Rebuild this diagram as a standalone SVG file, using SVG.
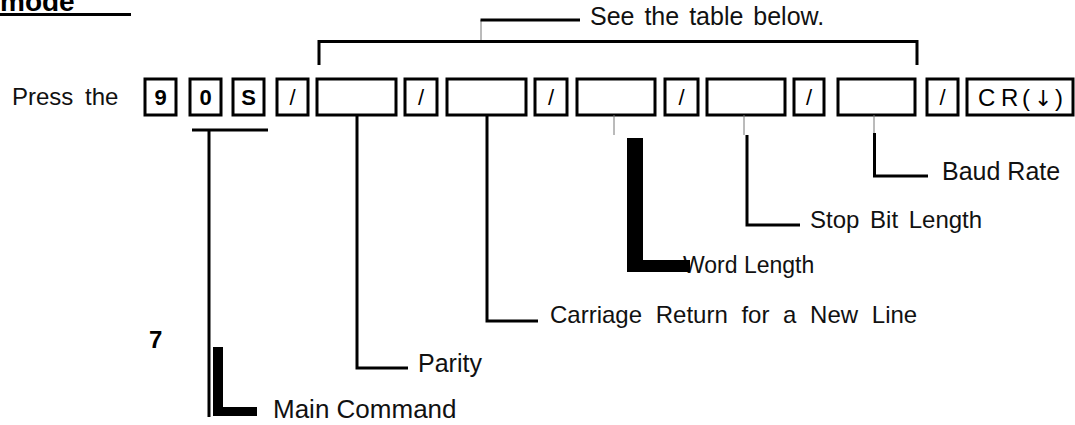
<svg xmlns="http://www.w3.org/2000/svg" width="1075" height="425" viewBox="0 0 1075 425">
<style>
.key{fill:#fff;stroke:#000;stroke-width:3}
.t{font-family:"Liberation Sans",Arial,sans-serif;font-size:24px;fill:#111}
.kb{font-family:"Liberation Sans",Arial,sans-serif;font-size:22px;font-weight:bold;fill:#000;text-anchor:middle}
.ks{font-family:"Liberation Sans",Arial,sans-serif;font-size:22px;fill:#000;text-anchor:middle}
.c{stroke:#000;stroke-width:3;fill:none}
.thin{stroke:#777;stroke-width:1;fill:none}
.solid{fill:#000}
</style>
<rect width="1075" height="425" fill="#fff"/>
<g id="title">
<text x="0" y="11" style="font-family:'Liberation Sans',Arial,sans-serif;font-size:28px;font-weight:bold">mode</text>
<line x1="0" y1="14.5" x2="131" y2="14.5" stroke="#000" stroke-width="3"/>
</g>
<g id="note"><text class="t" x="590" y="25" style="font-size:25px" word-spacing="3">See the table below.</text></g>
<g id="press"><text class="t" x="12" y="105" word-spacing="5">Press the</text></g>
<g id="key-9"><rect class="key" x="145" y="79" width="31" height="36"/><text class="kb" x="160.5" y="105">9</text></g>
<g id="key-0"><rect class="key" x="190" y="79" width="31" height="36"/><text class="kb" x="205.5" y="105">0</text></g>
<g id="key-S"><rect class="key" x="233" y="79" width="31" height="36"/><text class="kb" x="248.5" y="105">S</text></g>
<g id="key-slash1"><rect class="key" x="277" y="79" width="31" height="36"/><text class="ks" x="292.5" y="105">/</text></g>
<g id="box-parity"><rect class="key" x="317" y="79" width="79" height="36"/></g>
<g id="key-slash2"><rect class="key" x="405" y="79" width="32" height="36"/><text class="ks" x="421" y="105">/</text></g>
<g id="box-cr"><rect class="key" x="447" y="79" width="79" height="36"/></g>
<g id="key-slash3"><rect class="key" x="535" y="79" width="32" height="36"/><text class="ks" x="551" y="105">/</text></g>
<g id="box-word"><rect class="key" x="577" y="79" width="78" height="36"/></g>
<g id="key-slash4"><rect class="key" x="665" y="79" width="33" height="36"/><text class="ks" x="681.5" y="105">/</text></g>
<g id="box-stop"><rect class="key" x="707" y="79" width="78" height="36"/></g>
<g id="key-slash5"><rect class="key" x="794" y="79" width="30" height="36"/><text class="ks" x="809" y="105">/</text></g>
<g id="box-baud"><rect class="key" x="838" y="79" width="77" height="36"/></g>
<g id="key-slash6"><rect class="key" x="927" y="79" width="31" height="36"/><text class="ks" x="942.5" y="105">/</text></g>
<g id="key-cr"><rect class="key" x="967" y="79" width="106" height="36"/><text class="t" y="106" style="font-size:24px;fill:#000"><tspan x="978">C</tspan><tspan x="1001">R</tspan><tspan x="1022">(</tspan><tspan x="1034" style="font-family:'DejaVu Sans',sans-serif;font-size:22px">↓</tspan><tspan x="1055">)</tspan></text></g>
<g id="label-parity"><text class="t" x="418" y="372" style="font-size:25px">Parity</text></g>
<g id="label-main"><text class="t" x="273" y="418" style="font-size:26px">Main Command</text></g>
<g id="label-carriage"><text class="t" x="550" y="323" word-spacing="7">Carriage Return for a New Line</text></g>
<g id="label-word"><text class="t" x="683" y="273" style="font-size:23px">Word Length</text></g>
<g id="label-stop"><text class="t" x="810" y="228" word-spacing="4">Stop Bit Length</text></g>
<g id="label-baud"><text class="t" x="942" y="180" style="font-size:25px">Baud Rate</text></g>
<g id="label-7"><text x="149" y="348" style="font-family:'Liberation Sans',Arial,sans-serif;font-size:24px;font-weight:bold">7</text></g>
<g id="connectors">
<path class="c" d="M319 65 V41.5 H917 V65"/>
<line class="thin" x1="481" y1="20" x2="481" y2="40" stroke-width="1.5"/>
<line class="c" x1="480.5" y1="20" x2="580" y2="20"/>
<line class="c" x1="192" y1="130" x2="268" y2="130"/>
<line class="c" x1="209" y1="130" x2="209" y2="417" stroke-width="2.5"/>
<rect class="solid" x="213" y="347" width="10" height="69"/>
<rect class="solid" x="213" y="407" width="44" height="9"/>
<path class="c" d="M357 115 V368 H408"/>
<path class="c" d="M487 115 V321 H538" stroke-width="3.5"/>
<line class="thin" x1="614" y1="115" x2="614" y2="135"/>
<rect class="solid" x="627" y="138" width="16" height="134"/>
<rect class="solid" x="627" y="260" width="63" height="12"/>
<line class="thin" x1="744" y1="115" x2="744" y2="135"/>
<path class="c" d="M747 135 V225 H800"/>
<line class="thin" x1="874" y1="115" x2="874" y2="133"/>
<path class="c" d="M874.5 133 V176 H928"/>
</g>
</svg>
